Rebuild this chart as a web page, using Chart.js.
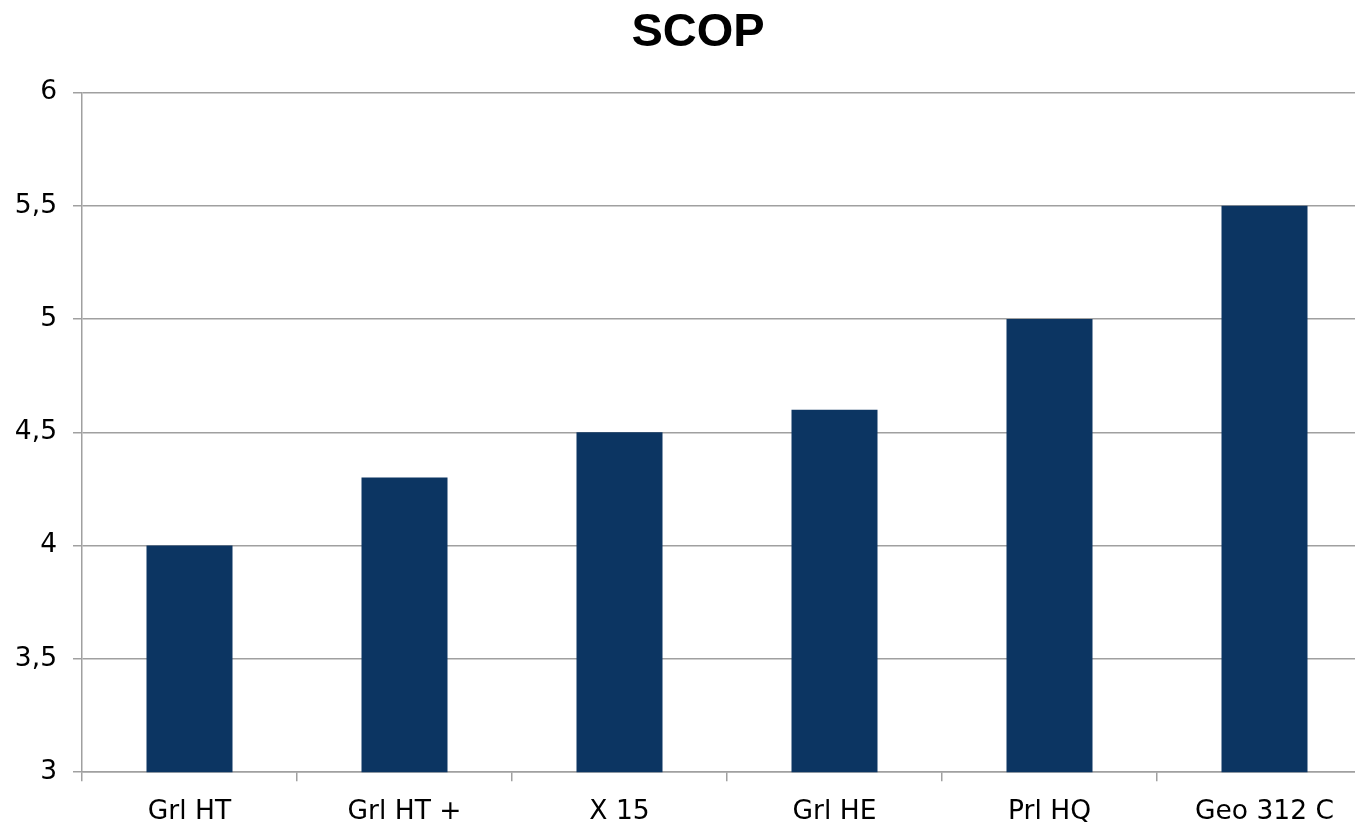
<!DOCTYPE html>
<html>
<head>
<meta charset="utf-8">
<style>
  html, body { margin: 0; padding: 0; background: #fff; overflow: hidden; }
  #wrap { position: absolute; left: 0; top: 0; width: 1396px; height: 843px; }
</style>
<script src="https://cdn.jsdelivr.net/npm/chart.js@4/dist/chart.umd.min.js"></script>
</head>
<body>
<div id="wrap"><canvas id="c" width="1396" height="843"></canvas></div>
<script>
// SCOP values per heat pump model
const categories = ['Grl HT', 'Grl HT +', 'X 15', 'Grl HE', 'Prl HQ', 'Geo 312 C'];
const scopValues = [4.0, 4.3, 4.5, 4.6, 5.0, 5.5];
const yTicks = [3, 3.5, 4, 4.5, 5, 5.5, 6];

const gridGrey = '#a0a0a0';
const labelFont = { family: '"DejaVu Sans", Verdana, sans-serif', size: 26.5 };

new Chart(document.getElementById('c'), {
  type: 'bar',
  data: {
    labels: categories,
    datasets: [{
      label: 'SCOP',
      data: scopValues,
      yAxisID: 'y',
      backgroundColor: '#0c3562',
      borderWidth: 0,
      barPercentage: 0.4,
      categoryPercentage: 1.0
    }]
  },
  options: {
    responsive: false,
    animation: false,
    layout: { padding: 0 },
    plugins: {
      legend: { display: false },
      tooltip: { enabled: false },
      title: {
        display: true,
        text: 'SCOP',
        color: '#000',
        font: { family: '"Liberation Sans", Arial, sans-serif', size: 47, weight: 'bold' },
        padding: { top: 5, bottom: 31 }
      }
    },
    scales: {
      x: {
        grid: {
          display: true,
          offset: true,
          drawOnChartArea: false,
          drawTicks: true,
          tickLength: 9,
          color: gridGrey,
          lineWidth: 1.5
        },
        border: { display: true, color: gridGrey, width: 1.5 },
        ticks: {
          color: '#000',
          padding: 15,
          maxRotation: 0,
          font: labelFont
        }
      },
      y: {
        position: 'left',
        min: 3,
        max: 6,
        afterBuildTicks: (axis) => { axis.ticks = yTicks.map(v => ({ value: v })); },
        afterFit: (axis) => { axis.width = 82; },
        grid: {
          color: gridGrey,
          lineWidth: 1.5,
          drawTicks: true,
          tickLength: 9
        },
        border: { display: true, color: gridGrey, width: 1.5 },
        ticks: {
          color: '#000',
          padding: 16,
          font: labelFont,
          callback: (v) => String(v).replace('.', ',')
        }
      },
      // empty right-hand margin axis (no marks drawn)
      yRight: {
        position: 'right',
        min: 3,
        max: 6,
        afterFit: (axis) => { axis.width = 24; },
        grid: { display: false, drawOnChartArea: false, drawTicks: false },
        border: { display: false },
        ticks: { display: false }
      }
    }
  }
});
</script>
</body>
</html>
